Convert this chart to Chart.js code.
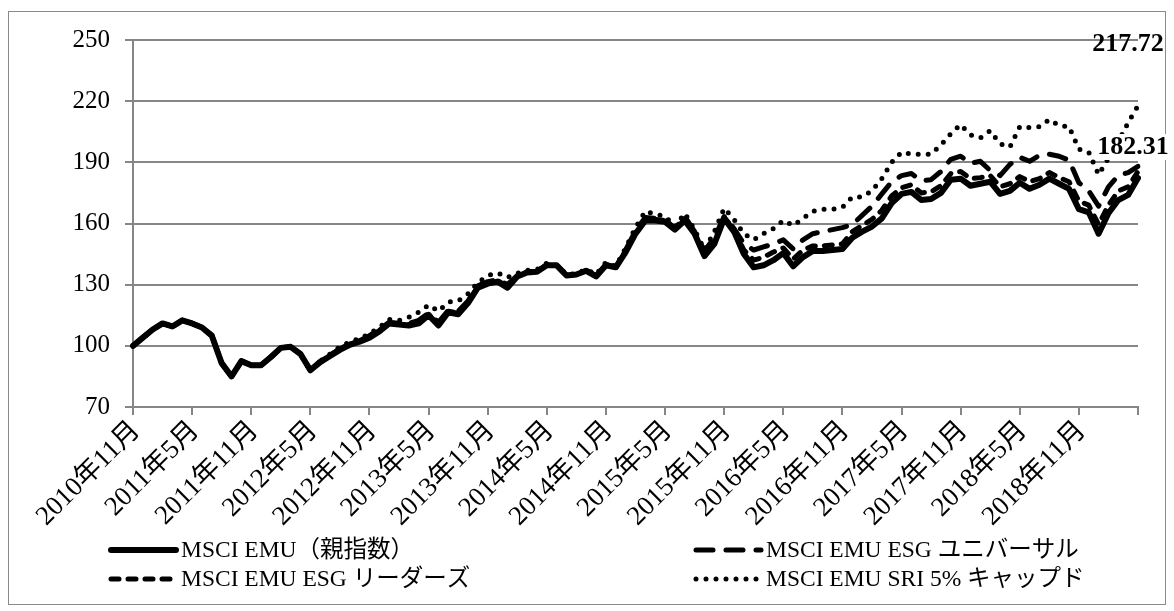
<!DOCTYPE html>
<html><head><meta charset="utf-8">
<script src="https://cdn.jsdelivr.net/npm/chart.js@4/dist/chart.umd.min.js"></script>
<style>html,body{margin:0;padding:0;background:#fff;overflow:hidden}canvas{display:block}</style>
</head><body>
<canvas id="c" width="1174" height="611"></canvas>
<script>
// Monthly categories 2010年11月 .. 2019年5月 (103 months)
const months = [];
for (let y = 2010, m = 11, k = 0; k < 103; k++) { months.push(y + '年' + m + '月'); m++; if (m > 12) { m = 1; y++; } }

const tickLabels = ['2010年11月','2011年5月','2011年11月','2012年5月','2012年11月','2013年5月','2013年11月','2014年5月','2014年11月','2015年5月','2015年11月','2016年5月','2016年11月','2017年5月','2017年11月','2018年5月','2018年11月'];
const yTicks = [70, 100, 130, 160, 190, 220, 250];

const seriesNames = ['MSCI EMU（親指数）','MSCI EMU ESG ユニバーサル','MSCI EMU ESG リーダーズ','MSCI EMU SRI 5% キャップド'];

const emu = [100,104,108,111,109.5,112.5,111,109,105,91.5, 85,92.5,90.5,90.5,94.5,99,99.5,96,88,92,
 95,98,100.5,102,104,107,111,110.5,110,111, 115,110,116.5,115.5,121,128.5,130.5,131.5,128.5,134,
 136,136.3,139.5,139.5,134.5,135,136.8,134,139.5,138.5, 146,155,161.5,161.5,160.8,157,161.5,155,144,150,
 162.5,156,145,138.5,139.5,142,145.5,139,143.5,146.5, 146.5,147,147.5,153,156,158.5,162.5,170,174.5,175.5,
 171.5,172,175,181.5,182,178.5,179.5,180.5,174.5,176, 180,177,179,182,179.5,177,167,165.5,155,165,
 171.5,174,182.31];

const universal = [100,104,108,111,109.5,112.5,111,109,105,91.5, 85,92.5,90.5,90.5,94.5,99,99.5,96,88,92.5,
 95.5,98.5,101,102.5,105,108,111.5,111,111,112.5, 116,111.5,117.5,117,122,129.5,131.5,132.5,130,134.5,
 136.5,136.5,139.8,139.5,134.5,135,137,134.5,140,138.5, 147,156.5,163,162.5,162,157.5,163.5,156,146.5,153,
 163.5,157.5,150,147,148.5,150,152,147.5,152,155, 156,157,158,159.5,164,168.5,174.5,180.5,183.5,184.5,
 181,181.5,185.5,191.5,193,189.5,190.5,186,183.5,189, 192.5,190.5,193.5,194,193,191,180,176,168.5,178,
 183.5,185,188];

const leaders = [100,104,108,111,109.5,112.5,111,109,105,91.5, 85,92.5,90.5,90.5,94.5,99,99.5,96,88,92,
 95.3,98.3,100.8,102.3,104.5,107.5,111.3,110.8,110.5,111.8, 115.5,110.5,117,116,121.5,129,131,132,129,134.3,
 136.3,136.4,139.7,139.5,134.5,135,136.9,134.3,139.8,138.5, 146.5,155.5,162,162,161.5,157.5,162.5,155.5,145,151.5,
 163,157,147,142,143.5,146,148,142.5,147,149, 149,149.5,150,156,159,162,166.5,173.5,177.5,179,
 175,175.5,178.5,184.5,185.5,182,182.5,183.5,178,179.5, 183,180.5,182,185,182.5,180.5,171,169,159.5,169,
 176,178,185.5];

const sri = [100,104,108,111,109.5,112.5,111,109,105,91.5, 85,92.5,90.5,90.5,94.5,99,99.5,96,88,92.5,
 96,99.5,102,103.5,106,109,113,112.5,114,116.5, 120,117,121.5,122,125.5,131,134.5,135.8,133.5,135.5,
 137,137.5,140.5,139.5,135,135.5,137.5,135,141,139, 148,158,166,164.5,163.5,158.5,165,157,147,156,
 167.5,162,155,152,155,157.5,161.5,159,162.5,166, 167,167,168,173,173,176,182,190,195,194,
 194,194,198.5,204,208.5,203.5,202,205.5,199,197.5, 207.5,207,207.5,211,208,207.5,196.5,195,184,192,
 200,209.5,217.72];

const FONT = "'Liberation Serif','Times New Roman','Noto Sans CJK JP',serif";
const GRID = '#868686';

const styles = [
  { width: 6, dash: [] },
  { width: 5, dash: [17, 13] },
  { width: 5, dash: [8, 9] },
  { width: 5, dash: [0, 10] }
];
const seriesData = [emu, universal, leaders, sri];

const datasets = seriesData.map((d, i) => ({
  label: seriesNames[i],
  data: d,
  borderColor: '#000',
  borderWidth: styles[i].width,
  borderDash: styles[i].dash,
  borderCapStyle: 'round',
  borderJoinStyle: 'round',
  pointRadius: 0,
  tension: 0,
  fill: false
}));

const decor = {
  id: 'decor',
  beforeDraw(chart) {
    const c = chart.ctx;
    c.save();
    c.fillStyle = '#fff';
    c.fillRect(0, 0, chart.width, chart.height);
    c.strokeStyle = '#8a8a8a';
    c.lineWidth = 1;
    c.strokeRect(8.5, 11.5, 1157, 593);
    c.restore();
  },
  afterDatasetsDraw(chart) {
    const c = chart.ctx;
    c.save();
    // end labels
    const m0 = chart.getDatasetMeta(0).data[emu.length - 1];
    const m3 = chart.getDatasetMeta(3).data[sri.length - 1];
    c.font = 'bold 26px ' + FONT;
    c.textAlign = 'center';
    c.textBaseline = 'middle';
    let t = emu[emu.length - 1].toFixed(2);
    let w = c.measureText(t).width;
    let lx = m0.x - 5, ly = m0.y - 31;
    c.fillStyle = '#fff';
    c.fillRect(lx - w / 2 - 2, ly - 13, w + 4, 26);
    c.fillStyle = '#000';
    c.fillText(t, lx, ly);
    t = sri[sri.length - 1].toFixed(2);
    c.fillText(t, m3.x - 10, m3.y - 62);
    // legend
    const items = [
      { i: 0, x: 108, y: 550 },
      { i: 1, x: 693, y: 550 },
      { i: 2, x: 108, y: 579 },
      { i: 3, x: 693, y: 579 }
    ];
    c.font = '23.5px ' + FONT;
    c.textAlign = 'left';
    items.forEach(it => {
      const s = styles[it.i];
      c.strokeStyle = '#000';
      c.lineWidth = s.width;
      c.lineCap = 'round';
      c.setLineDash(s.dash);
      c.beginPath();
      c.moveTo(it.x + 3, it.y);
      c.lineTo(it.x + 68, it.y);
      c.stroke();
      c.setLineDash([]);
      c.fillStyle = '#000';
      c.fillText(seriesNames[it.i], it.x + 73, it.y + 1);
    });
    c.restore();
  }
};

new Chart(document.getElementById('c'), {
  type: 'line',
  data: { labels: months, datasets },
  options: {
    responsive: false,
    animation: false,
    devicePixelRatio: 1,
    layout: { padding: { left: 0, right: 36, top: 40, bottom: 0 } },
    plugins: { legend: { display: false }, tooltip: { enabled: false } },
    scales: {
      x: {
        type: 'category',
        offset: false,
        afterFit(s) { s.height = 204; },
        grid: {
          drawOnChartArea: false,
          drawTicks: true,
          tickLength: 8,
          lineWidth: 2,
          color: ctx => (ctx.index % 6 === 0 ? GRID : 'rgba(0,0,0,0)')
        },
        border: { display: true, color: GRID, width: 2 },
        ticks: {
          autoSkip: false,
          maxRotation: 45,
          minRotation: 45,
          padding: 0,
          labelOffset: 3,
          color: '#000',
          font: { family: FONT, size: 27 },
          callback: (v, i) => (i % 6 === 0 && i / 6 < tickLabels.length ? tickLabels[i / 6] : '')
        }
      },
      y: {
        min: yTicks[0],
        max: yTicks[yTicks.length - 1],
        afterFit(s) { s.width = 133; },
        afterBuildTicks(s) { s.ticks = yTicks.map(v => ({ value: v })); },
        grid: { color: GRID, lineWidth: 2, tickLength: 8 },
        border: { display: true, color: GRID, width: 2 },
        ticks: {
          color: '#000',
          padding: 15,
          font: { family: FONT, size: 25 }
        }
      }
    }
  },
  plugins: [decor]
});
</script>
</body></html>
